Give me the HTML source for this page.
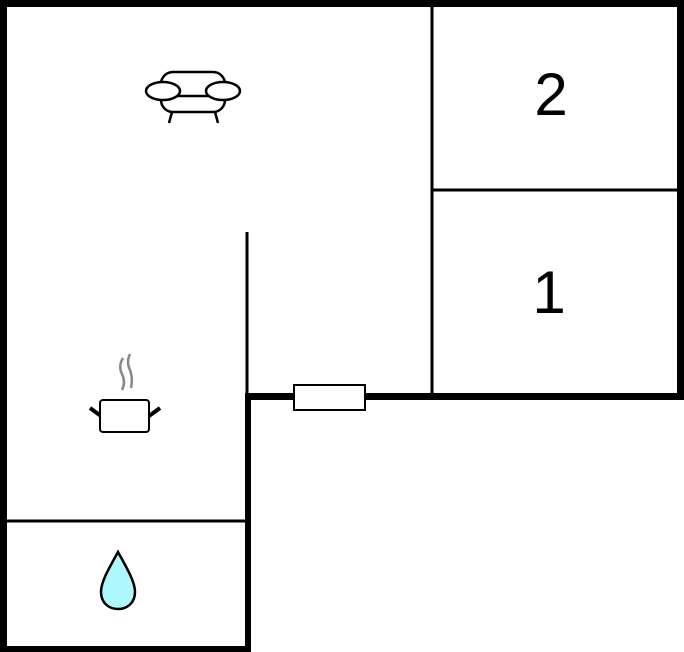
<!DOCTYPE html>
<html><head><style>html,body{margin:0;padding:0;background:#fff;}svg{display:block}</style></head>
<body>
<svg width="684" height="652" viewBox="0 0 684 652" xmlns="http://www.w3.org/2000/svg">
<rect x="0" y="0" width="684" height="652" fill="#fff"/>
<!-- thick walls -->
<g fill="#000">
<rect x="0" y="0" width="684" height="7"/>
<rect x="0" y="0" width="7" height="652"/>
<rect x="677" y="0" width="7" height="400"/>
<rect x="245" y="393" width="439" height="7"/>
<rect x="245" y="393" width="6" height="259"/>
<rect x="0" y="646" width="251" height="6"/>
</g>
<!-- thin walls -->
<g stroke="#000" stroke-width="3" fill="none">
<line x1="432" y1="5" x2="432" y2="395"/>
<line x1="432" y1="190" x2="680" y2="190"/>
<line x1="247" y1="232" x2="247" y2="395"/>
<line x1="5" y1="521" x2="246" y2="521"/>
</g>
<rect x="294" y="385" width="71" height="25" fill="#fff" stroke="#000" stroke-width="2"/>
<g font-family="Liberation Sans, sans-serif" font-size="60" text-anchor="middle" fill="#000">
<text x="551" y="115">2</text>
<text x="549" y="313">1</text>
</g>
<!-- sofa -->
<g stroke="#000" stroke-width="2.5" fill="#fff">
<rect x="161" y="72" width="64" height="40" rx="12"/>
<line x1="172" y1="112" x2="169" y2="123"/>
<line x1="215" y1="112" x2="218" y2="123"/>
<line x1="168" y1="96" x2="218" y2="96"/>
<ellipse cx="163" cy="91" rx="17" ry="9"/>
<ellipse cx="223" cy="91" rx="17" ry="9"/>
</g>
<!-- pot -->
<g stroke="#888" stroke-width="2.5" fill="none">
<path d="M123 358 Q118 366 122 374 Q126 382 122 390"/>
<path d="M130 354 Q126 362 130 370 Q133 378 131 388"/>
</g>
<g stroke="#000" fill="#fff">
<line x1="90" y1="408" x2="101" y2="416" stroke-width="4"/>
<line x1="160" y1="408" x2="149" y2="416" stroke-width="4"/>
<rect x="100" y="400" width="49" height="32" rx="3" stroke-width="2"/>
</g>
<!-- drop -->
<path d="M118 552 C108 570 101 582 101 592 C101 603 109 609 118 609 C127 609 135 603 135 592 C135 582 128 570 118 552 Z" fill="#aef7fd" stroke="#000" stroke-width="2.5"/>
</svg>
</body></html>
